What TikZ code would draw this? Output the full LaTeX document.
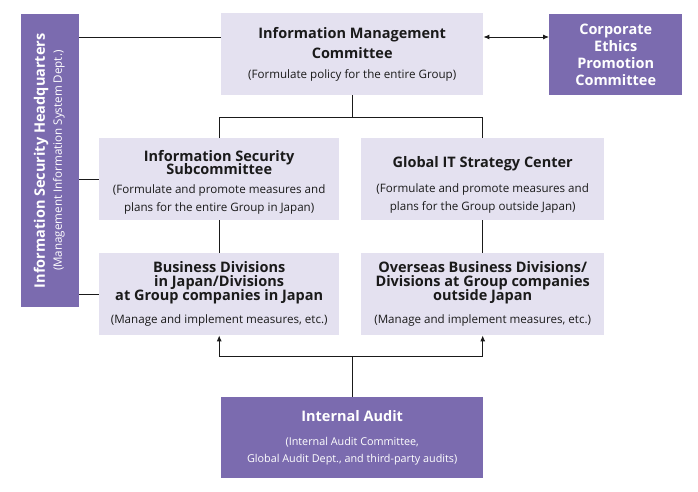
\documentclass[tikz,border=0pt]{standalone}
\usepackage{fontspec}
\setmainfont{Open Sans}
\usepackage{graphicx}
\usepackage{xcolor}
\usepackage{tikz}
\usetikzlibrary{arrows.meta}
\definecolor{ink}{HTML}{1A1A1A}
\definecolor{violet}{HTML}{7B6BAF}
\definecolor{lilac}{HTML}{E4E1F0}
\tikzset{
  pale/.style={fill=lilac, text=ink, anchor=north west, align=center, inner sep=0pt,
    font=\fontsize{11.6}{15}\selectfont},
  deep/.style={fill=violet, text=white, anchor=north west, align=center, inner sep=0pt,
    font=\fontsize{11.6}{15}\selectfont},
  link/.style={draw=ink, line width=0.9pt},
  arr/.style={link, -{Latex[length=6pt,width=5pt]}},
  dbl/.style={link, {Latex[length=6pt,width=5pt]}-{Latex[length=6pt,width=5pt]}},
}
\newcommand{\ttl}{\fontsize{14.5}{15}\selectfont\bfseries}
\newcommand{\sub}[1]{{\fontsize{11.6}{15}\selectfont #1}}

\begin{document}
\begin{tikzpicture}[x=1pt,y=-1pt]
  \useasboundingbox (0,0) rectangle (698,492);
  % headquarters bar on the left
  \node[deep, minimum width=58pt, minimum height=293pt] (hq) at (21,14)
    {\rotatebox{90}{\begin{tabular}{@{}c@{}}
      {\fontsize{14.5}{15}\selectfont\bfseries Information Security Headquarters}\\[2pt]
      \sub{(Management Information System Dept.)}\end{tabular}}};
  % top row
  \node[pale, minimum width=262pt, minimum height=82pt] (imc) at (221,13)
    {{\ttl Information Management}\\[5pt]{\ttl Committee}\\[5pt]
     \sub{(Formulate policy for the entire Group)}};
  \node[deep, minimum width=133pt, minimum height=81pt, font=\fontsize{14.5}{17}\selectfont\bfseries] (ethics) at (549,14)
    {Corporate\\Ethics\\Promotion\\Committee};
  % middle row
  \node[pale, minimum width=240pt, minimum height=82pt] (isc) at (99,138)
    {\rule{0pt}{17pt}{\ttl Information Security}\\[-2pt]{\ttl Subcommittee}\\[4pt]
     \sub{(Formulate and promote measures and}\\[3pt]\sub{plans for the entire Group in Japan)}};
  \node[pale, minimum width=243pt, minimum height=82pt] (git) at (361,138)
    {\rule{0pt}{22pt}{\ttl Global IT Strategy Center}\\[10pt]
     \sub{(Formulate and promote measures and}\\[3pt]\sub{plans for the Group outside Japan)}};
  % bottom row
  \node[pale, minimum width=240pt, minimum height=82pt] (bdj) at (99,253)
    {{\ttl Business Divisions}\\[-1pt]{\ttl in Japan/Divisions}\\[-1pt]{\ttl at Group companies in Japan}\\[8pt]
     \sub{(Manage and implement measures, etc.)}};
  \node[pale, minimum width=243pt, minimum height=82pt] (obd) at (361,253)
    {{\ttl Overseas Business Divisions/}\\[-1pt]{\ttl Divisions at Group companies}\\[-1pt]{\ttl outside Japan}\\[8pt]
     \sub{(Manage and implement measures, etc.)}};
  \node[deep, minimum width=262pt, minimum height=81pt] (audit) at (221,397)
    {{\fontsize{14.5}{15}\selectfont\bfseries Internal Audit}\\[9pt]
     {\fontsize{10.8}{15}\selectfont (Internal Audit Committee,}\\[2pt]
     {\fontsize{10.8}{15}\selectfont Global Audit Dept., and third-party audits)}};

  \coordinate (toprow) at (0,37);
  \draw[link] (hq.east |- toprow) -- (imc.west |- toprow);
  \draw[dbl] (imc.east |- toprow) -- (ethics.west |- toprow);
  \draw[link] (hq.east |- isc.west) -- (isc.west);
  \draw[link] (hq.east |- bdj.west) -- (bdj.west);
  \draw[link] (imc.south) -- ++(0,22) coordinate (split);
  \draw[link] (isc.north) |- (split) -| (git.north);
  \draw[link] (isc.south) -- (bdj.north);
  \draw[link] (git.south) -- (obd.north);
  \draw[link] (audit.north) -- ++(0,-41) coordinate (fork);
  \draw[arr] (fork) -| (bdj.south);
  \draw[arr] (fork) -| (obd.south);
\end{tikzpicture}
\end{document}
